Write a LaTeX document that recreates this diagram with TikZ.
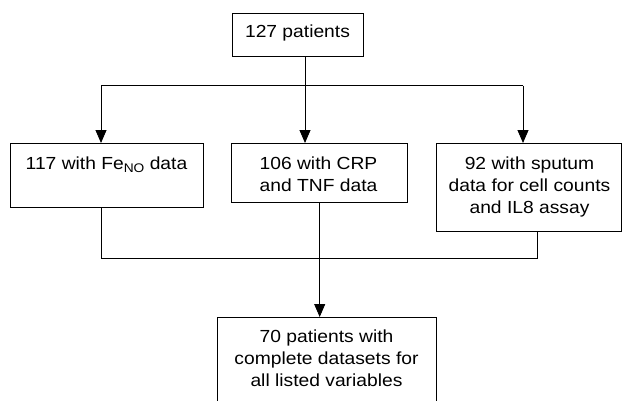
\documentclass[tikz,border=0pt]{standalone}
\usepackage{fontspec}
\setmainfont{Liberation Sans}[FakeStretch=1.1]
\usetikzlibrary{arrows.meta}
\tikzset{
  x=1pt, y=-1pt,
  boxnode/.style={draw, line width=0.9pt, inner sep=0pt, anchor=north west},
  txt/.style={inner sep=0pt, align=center, anchor=base, font=\fontsize{17.5}{22}\selectfont},
  ln/.style={line width=0.9pt},
  arr/.style={line width=0.9pt, -{Triangle[length=13pt,width=11pt]}}
}
\newcommand{\subNO}{\raisebox{-3.5pt}{\fontsize{12.5}{12}\selectfont NO}}
\begin{document}
\begin{tikzpicture}
\useasboundingbox (0,0) rectangle (622,400);
% boxes
\node[boxnode, minimum width=131.5pt, minimum height=43.5pt] (top) at (231.5,12.5) {};
\node[boxnode, minimum width=192.5pt, minimum height=64pt] (b1) at (10,143) {};
\node[boxnode, minimum width=175.5pt, minimum height=58.5pt] (b2) at (231,143) {};
\node[boxnode, minimum width=185pt, minimum height=87.5pt] (b3) at (436,143) {};
\node[boxnode, minimum width=219pt, minimum height=85pt] (b4) at (217,317) {};
% texts (anchor base = baseline of last line)
\node[txt] (ttop) at (297.5,37.5) {127 patients};
\node[txt] (t1) at (106.5,169) {117 with Fe\subNO{} data};
\node[txt] (t2) at (318.5,191) {106 with CRP\\and TNF data};
\node[txt] (t3) at (529.5,213) {92 with sputum\\data for cell counts\\and IL8 assay};
\node[txt] (t4) at (326.5,386.5) {70 patients with\\complete datasets for\\all listed variables};
% junction coordinates
\coordinate (j1) at (305,85.5);
\coordinate (busL) at (101,85.5);
\coordinate (busR) at (523,85.5);
\coordinate (lowL) at (101,258.5);
\coordinate (lowR) at (537.5,258.5);
% connectors
\draw[ln] (top.south -| j1) -- (j1);
\draw[ln] (busL) -- (busR);
\draw[arr] (busL) -- (busL |- b1.north);
\draw[arr] (j1) -- (j1 |- b2.north);
\draw[arr] (busR) -- (busR |- b3.north);
\draw[ln] (lowL |- b1.south) -- (lowL) -- (lowR) -- (lowR |- b3.south);
\draw[arr] ([xshift=0.5pt]b2.south) -- ([xshift=0.5pt]b2.south |- b4.north);
\end{tikzpicture}
\end{document}
